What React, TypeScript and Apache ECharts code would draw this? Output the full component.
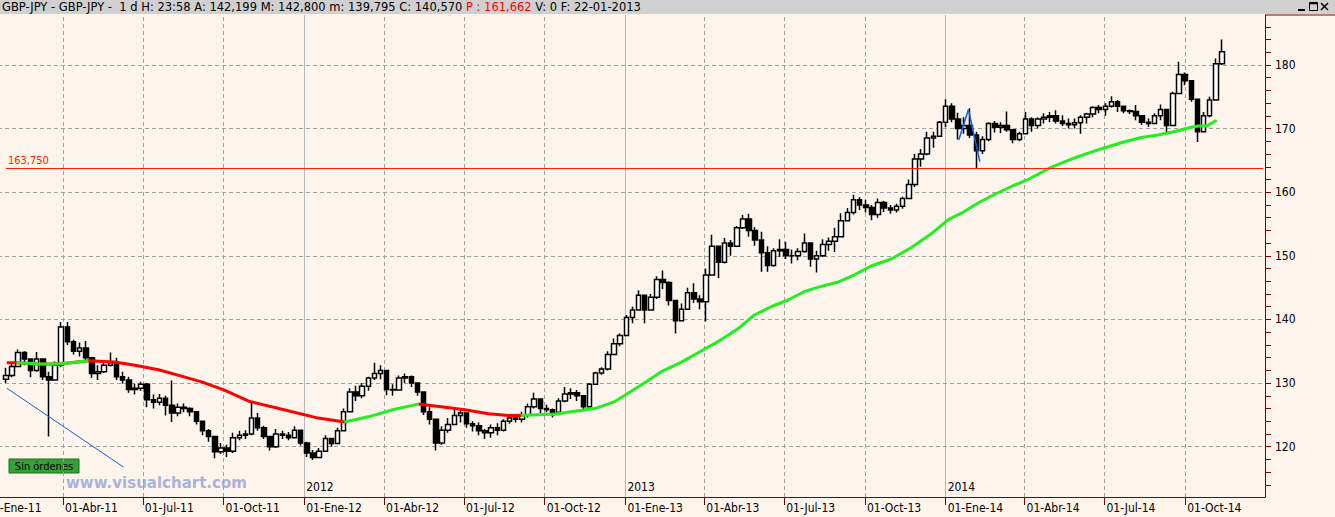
import React, { useEffect, useRef } from "react";
import * as echarts from "echarts";

// ---------- DATA ----------
const firstWeekWednesday = [2011, 0, 26];
const firstOpen = 130.6;
const weeklyClose = [
  131.2, 132.6, 134.8, 133.8, 132.0, 133.8, 131.0, 130.5, 132.8, 138.8,
  136.5, 135.0, 135.5, 134.0, 131.5, 131.8, 132.8, 133.2, 131.0, 130.5,
  129.0, 129.2, 129.8, 127.4, 127.0, 127.6, 126.5, 125.3, 126.2, 126.0,
  125.5, 124.0, 122.5, 121.6, 119.2, 119.8, 119.3, 121.4, 121.8, 122.0,
  124.5, 123.0, 121.6, 120.0, 122.0, 121.8, 121.4, 122.6, 120.6, 119.0,
  118.3, 119.3, 121.3, 120.5, 122.5, 125.5, 128.6, 128.0, 129.5, 130.8,
  131.5, 132.0, 129.0, 128.9, 130.8, 131.0, 130.0, 128.6, 125.5, 124.3,
  120.6, 122.6, 123.5, 124.9, 125.3, 123.6, 123.3, 122.5, 122.2, 123.0,
  122.6, 124.0, 124.5, 124.3, 125.0, 126.3, 127.5, 126.0, 125.8, 125.4,
  127.2, 128.3, 128.5, 128.0, 126.3, 129.8, 131.6, 132.2, 134.5, 136.2,
  137.5, 140.3, 141.5, 143.8, 141.5, 143.5, 146.3, 145.8, 143.0, 139.8,
  141.6, 144.2, 143.2, 142.8, 147.0, 151.5, 149.0, 152.0, 151.5, 154.4,
  155.8, 154.0, 152.5, 150.5, 148.5, 150.8, 151.0, 150.0, 150.0, 150.7,
  152.0, 149.5, 150.0, 151.8, 152.3, 153.0, 155.5, 156.8, 158.8, 158.0,
  157.6, 156.5, 158.4, 157.5, 157.2, 157.8, 159.0, 161.2, 165.2, 166.0,
  168.5, 168.8, 171.0, 173.5, 171.5, 170.0, 170.5, 169.0, 166.5, 168.3,
  170.8, 170.2, 170.5, 169.8, 168.3, 169.2, 171.5, 170.5, 171.5, 171.8,
  172.0, 171.2, 170.8, 170.6, 170.9, 171.8, 172.3, 173.3, 173.0, 173.5,
  174.2, 173.5, 172.8, 172.7, 172.0, 171.0, 170.8, 172.0, 173.0, 170.5,
  175.5, 178.5, 177.5, 174.6, 169.5, 172.0, 174.5, 180.2, 182.06,
];
const weeklyHigh = [
  132.4, 133.2, 135.3, 135.0, 133.8, 134.9, 133.8, 131.8, 133.4, 139.6,
  139.6, 136.8, 136.4, 136.6, 133.8, 132.8, 133.4, 134.8, 134.0, 131.8,
  131.0, 129.9, 130.2, 130.0, 128.2, 128.3, 128.0, 130.4, 126.8, 126.8,
  126.2, 125.3, 124.0, 122.8, 121.2, 120.6, 120.3, 122.2, 122.5, 122.6,
  127.1, 125.3, 123.3, 121.5, 122.8, 122.5, 122.3, 123.2, 122.6, 120.8,
  119.5, 119.8, 121.8, 121.4, 123.0, 126.0, 129.2, 129.6, 130.0, 131.0,
  133.2, 132.8, 132.0, 129.8, 131.2, 131.5, 131.2, 130.0, 128.6, 126.2,
  124.3, 123.2, 124.5, 125.8, 125.7, 125.3, 124.0, 123.8, 122.8, 123.5,
  123.7, 124.3, 125.0, 124.8, 125.5, 126.8, 128.5, 127.4, 126.6, 126.0,
  127.6, 129.4, 129.2, 128.9, 128.0, 130.0, 131.8, 132.5, 135.0, 137.0,
  137.8, 140.7, 142.0, 144.6, 143.8, 144.0, 146.8, 147.7, 146.0, 143.0,
  142.5, 145.0, 145.7, 143.8, 148.0, 153.3, 151.5, 152.8, 152.5, 154.7,
  156.4, 156.6, 154.5, 153.8, 151.5, 151.2, 152.6, 152.2, 151.0, 151.2,
  153.5, 152.0, 150.8, 152.6, 152.9, 154.4, 156.7, 157.5, 159.6, 159.2,
  158.8, 158.0, 159.0, 158.6, 158.0, 158.2, 159.3, 162.0, 166.0, 166.8,
  169.5, 169.5, 171.2, 174.6, 174.0, 172.5, 171.8, 173.2, 169.5, 168.8,
  171.0, 171.2, 171.0, 172.7, 169.8, 169.5, 172.6, 171.8, 171.8, 172.4,
  172.6, 172.9, 172.1, 171.6, 171.6, 172.1, 172.5, 173.5, 173.7, 174.0,
  175.1, 174.5, 173.3, 173.0, 173.7, 172.1, 171.6, 172.4, 173.8, 172.6,
  175.8, 180.5, 178.8, 177.0, 174.5, 172.6, 175.0, 181.0, 184.0,
];
const weeklyLow = [
  130.0, 130.9, 132.6, 132.8, 130.9, 131.8, 130.5, 121.6, 130.4, 132.5,
  136.0, 134.5, 134.2, 133.3, 130.8, 130.5, 131.6, 132.6, 130.5, 129.9,
  128.5, 128.2, 128.8, 126.2, 126.0, 126.5, 124.9, 123.9, 124.8, 125.4,
  124.8, 123.5, 121.8, 120.8, 118.2, 118.9, 118.4, 119.0, 121.0, 121.2,
  121.8, 122.5, 121.2, 119.4, 119.8, 121.2, 121.0, 121.3, 120.2, 118.4,
  117.9, 118.2, 119.2, 120.0, 120.4, 122.4, 125.4, 127.2, 127.6, 128.8,
  130.5, 130.6, 128.1, 128.0, 128.8, 130.0, 129.4, 128.0, 125.0, 123.5,
  119.4, 120.3, 122.2, 123.4, 123.8, 123.0, 122.4, 121.8, 121.2, 121.4,
  121.8, 122.4, 123.6, 123.8, 123.8, 124.6, 126.0, 125.3, 125.4, 124.6,
  125.0, 127.0, 127.5, 127.2, 125.8, 126.3, 129.8, 131.3, 132.0, 134.5,
  135.8, 137.4, 139.4, 141.5, 139.4, 141.5, 143.2, 144.8, 142.2, 137.8,
  139.8, 141.6, 142.6, 141.6, 139.7, 147.0, 146.5, 148.8, 150.0, 151.5,
  154.2, 153.0, 151.6, 147.5, 147.5, 148.3, 149.8, 149.5, 148.8, 149.3,
  150.5, 148.3, 147.4, 149.8, 150.8, 150.6, 153.0, 155.5, 156.5, 157.2,
  156.8, 155.6, 156.0, 156.9, 156.6, 156.8, 157.4, 159.0, 160.8, 164.0,
  165.8, 167.0, 168.8, 170.2, 171.0, 168.3, 169.2, 168.5, 163.8, 166.0,
  168.0, 169.4, 169.3, 169.5, 167.7, 168.0, 169.2, 169.5, 170.0, 170.8,
  171.0, 170.8, 170.4, 170.0, 170.0, 169.2, 170.8, 171.8, 172.4, 172.0,
  173.3, 172.6, 172.4, 172.3, 171.3, 170.6, 170.3, 170.8, 171.3, 169.3,
  170.5, 175.5, 176.8, 174.2, 167.9, 169.5, 171.8, 174.4, 180.0,
];

// moving average, read at points; state: r = red (above price), g = green
const maDates = [
  "2011-01-27", "2011-02-07", "2011-02-22", "2011-02-26", "2011-03-04", "2011-03-28", "2011-04-30",
  "2011-05-30", "2011-06-22", "2011-07-19", "2011-08-14", "2011-09-06", "2011-10-02", "2011-10-31",
  "2011-12-09", "2012-01-17", "2012-02-16", "2012-03-14", "2012-04-13", "2012-05-10", "2012-06-05",
  "2012-07-02", "2012-07-29", "2012-08-21", "2012-09-04", "2012-10-06", "2012-10-09", "2012-10-12",
  "2012-10-31", "2012-11-27", "2012-12-20", "2013-01-04", "2013-01-19", "2013-02-11", "2013-03-06",
  "2013-03-28", "2013-04-20", "2013-05-10", "2013-05-28", "2013-06-16", "2013-07-06", "2013-07-24",
  "2013-08-12", "2013-09-01", "2013-09-19", "2013-10-08", "2013-10-31", "2013-11-23", "2013-12-16",
  "2014-01-04", "2014-01-19", "2014-02-07", "2014-02-25", "2014-03-17", "2014-04-05", "2014-05-01",
  "2014-05-30", "2014-06-27", "2014-07-23", "2014-08-12", "2014-08-31", "2014-09-18", "2014-10-08",
  "2014-10-16", "2014-10-18", "2014-10-27", "2014-11-06",
];
const maValues = [
  133.2, 133.2, 133.1, 133.1, 133.0, 133.0, 133.5,
  133.3, 132.8, 132.1, 131.1, 130.2, 128.9, 127.1,
  125.8, 124.5, 123.9, 124.7, 125.9, 126.7, 126.3,
  125.8, 125.2, 124.9, 124.9, 125.1, 125.1, 125.1,
  125.5, 126.0, 127.1, 128.4, 129.7, 131.8, 133.3,
  135.0, 136.8, 138.6, 140.7, 142.0, 143.1, 144.4,
  145.2, 145.9, 147.0, 148.4, 149.5, 151.3, 153.5,
  155.7, 156.7, 158.3, 159.6, 160.9, 162.0, 163.9,
  165.5, 166.8, 167.9, 168.6, 169.0, 169.5, 170.2,
  170.4, 170.4, 170.5, 171.306,
];
const maState = "rgrgrgr" + "rrrrrrrrr" + "ggg" + "rrrrr" + "gg" + "r" + "g".repeat(36) + "r" + "ggg";

const lastClose = 182.06;
const lastMA = 171.306;
const levelLine = 163.75;
const levelFrom = "2011-01-26";
const levelTo = "2014-12-29";
const trendLine: [string, number][] = [["2011-01-27", 129.2], ["2011-06-09", 116.8]];
const swingLine: [string, number][] = [["2014-01-16", 168.2], ["2014-01-27", 173.0], ["2014-02-09", 164.8]];

const yLabels = [120, 130, 140, 150, 160, 170, 180];
const yMinorTicks = [114, 116, 118, 120, 122, 124, 126, 128, 130, 132, 134, 136, 138, 140, 142, 144, 146, 148, 150, 152, 154, 156, 158, 160, 162, 164, 166, 168, 170, 172, 174, 176, 178, 180, 182, 184, 186];
const quarterStarts = [
  "2011-01-01", "2011-04-01", "2011-07-01", "2011-10-01",
  "2012-01-01", "2012-04-01", "2012-07-01", "2012-10-01",
  "2013-01-01", "2013-04-01", "2013-07-01", "2013-10-01",
  "2014-01-01", "2014-04-01", "2014-07-01", "2014-10-01",
];
const yearStarts = ["2012-01-01", "2013-01-01", "2014-01-01"];
const monthNames = ["Ene", "Feb", "Mar", "Abr", "May", "Jun", "Jul", "Ago", "Sep", "Oct", "Nov", "Dic"];

const titleLeft = "GBP-JPY - GBP-JPY -  1 d H: 23:58 A: 142,199 M: 142,800 m: 139,795 C: 140,570 ";
const titleRed = "P : 161,662 ";
const titleRight = "V: 0 F: 22-01-2013";

// ---------- helpers ----------
const ts = (s: string) => {
  const [y, m, d] = s.split("-").map(Number);
  return new Date(y, m - 1, d).getTime();
};
const weekTs = (i: number) =>
  new Date(firstWeekWednesday[0], firstWeekWednesday[1], firstWeekWednesday[2] + 7 * i).getTime();

const FONT = "'DejaVu Sans Condensed', 'DejaVu Sans', sans-serif";
const TITLE_FONT = "'DejaVu Sans', sans-serif";
const AXIS_RED = "#800000";
const OFF = 17; // the chart div starts 17px left of the page so the first quarter tick sits off-screen

export default function App() {
  const ref = useRef<HTMLDivElement>(null);

  useEffect(() => {
    if (!ref.current) return;
    const chart = echarts.init(ref.current, null, { renderer: "svg" });

    const candles = weeklyClose.map((c, i) => {
      const o = i === 0 ? firstOpen : weeklyClose[i - 1];
      const h = Math.max(weeklyHigh[i], o, c);
      const l = Math.min(weeklyLow[i], o, c);
      return [weekTs(i), o, c, l, h];
    });

    const maRed = maDates.map((d, k) =>
      maState[k] === "r" || (k > 0 && maState[k - 1] === "r") ? [ts(d), maValues[k]] : [ts(d), "-"]
    );
    const maGreen = maDates.map((d, k) =>
      maState[k] === "g" || (k > 0 && maState[k - 1] === "g") ? [ts(d), maValues[k]] : [ts(d), "-"]
    );

    const xMin = ts("2011-01-01");
    const xMax = ts("2014-12-31");
    const qTs = quarterStarts.map(ts);
    const yTs = yearStarts.map(ts);

    const gridLines: any[] = [
      ...quarterStarts.filter((q) => !yearStarts.includes(q)).map((q) => ({ xAxis: ts(q) })),
      ...yTs.map((t) => ({ xAxis: t, lineStyle: { type: "solid", color: "#b8b8b8" } })),
      ...yLabels.map((v) => ({ yAxis: v })),
    ];

    const priceTag = (value: number, text: string) => ({
      yAxis: value,
      lineStyle: { opacity: 0, width: 0 },
      label: {
        show: true,
        position: "end",
        distance: 1,
        formatter: `{a|←}{b|${text}}`,
        rich: {
          a: { color: AXIS_RED, fontSize: 11, fontFamily: FONT, padding: [0, 1, 0, 0] },
          b: {
            color: "#ffffff",
            backgroundColor: "#3399ff",
            borderColor: AXIS_RED,
            borderWidth: 1,
            padding: [2, 3, 1, 3],
            fontSize: 12,
            fontFamily: FONT,
          },
        },
      },
    });

    const seg = (a: [string, number], b: [string, number], color: string, width: number) => [
      { coord: [ts(a[0]), a[1]], lineStyle: { color, width, type: "solid" } },
      { coord: [ts(b[0]), b[1]] },
    ];

    const overlayLines: any[] = [
      [
        {
          coord: [ts(levelFrom), levelLine],
          label: {
            show: true,
            position: "insideStartTop",
            formatter: "163,750",
            color: "#ff2000",
            fontSize: 11,
            fontFamily: FONT,
            distance: 2,
          },
          lineStyle: { color: "#ff2000", width: 1, type: "solid" },
        },
        { coord: [ts(levelTo), levelLine] },
      ],
      seg(trendLine[0], trendLine[1], "#1060e0", 1),
      seg(swingLine[0], swingLine[1], "#1060e0", 1.5),
      seg(swingLine[1], swingLine[2], "#1060e0", 1.5),
      priceTag(lastClose, "182,06"),
      priceTag(lastMA, "171,306"),
    ];

    const option: any = {
      animation: false,
      backgroundColor: "#fdf4ec",
      textStyle: { fontFamily: FONT },
      grid: { left: 0, right: 70, top: 15, bottom: 20, containLabel: false },
      xAxis: [
        {
          type: "value",
          min: xMin,
          max: xMax,
          position: "bottom",
          axisLine: { show: true, lineStyle: { color: AXIS_RED, width: 1 } },
          axisTick: { show: true, length: 8, lineStyle: { color: AXIS_RED }, customValues: qTs },
          axisLabel: {
            show: true,
            customValues: qTs,
            formatter: (v: number) => {
              const d = new Date(v);
              return "01-" + monthNames[d.getMonth()] + "-" + String(d.getFullYear()).slice(2);
            },
            align: "left",
            padding: [0, 0, 0, 2],
            margin: 5,
            color: "#000",
            fontSize: 12,
            fontFamily: FONT,
            hideOverlap: false,
          },
          splitLine: { show: false },
        },
        {
          type: "value",
          min: xMin,
          max: xMax,
          position: "bottom",
          axisLine: { show: false },
          axisTick: { show: true, inside: true, length: 10, lineStyle: { color: AXIS_RED }, customValues: yTs },
          axisLabel: {
            show: true,
            inside: true,
            customValues: yTs,
            formatter: (v: number) => String(new Date(v).getFullYear()),
            align: "left",
            padding: [0, 0, 0, 2],
            margin: 4,
            color: "#000",
            fontSize: 12,
            fontFamily: FONT,
          },
          splitLine: { show: false },
        },
      ],
      yAxis: {
        type: "value",
        position: "right",
        min: 112.1,
        max: 187.85,
        axisLine: { show: true, lineStyle: { color: AXIS_RED, width: 1 } },
        axisTick: { show: true, length: 6, lineStyle: { color: AXIS_RED }, customValues: yMinorTicks },
        axisLabel: { customValues: yLabels, color: "#000", fontSize: 12, margin: 10, fontFamily: FONT },
        splitLine: { show: false },
      },
      series: [
        {
          type: "candlestick",
          name: "GBP-JPY",
          xAxisIndex: 0,
          encode: { x: 0, y: [1, 2, 3, 4] },
          data: candles,
          barWidth: 5,
          z: 2,
          itemStyle: {
            color: "#ffffff",
            color0: "#000000",
            borderColor: "#000000",
            borderColor0: "#000000",
            borderWidth: 1.5,
          },
          markLine: {
            z: 1,
            silent: true,
            symbol: ["none", "none"],
            label: { show: false },
            lineStyle: { color: "#a0a0a0", type: [4, 3], width: 1 },
            data: gridLines,
          },
        },
        {
          type: "line",
          name: "MA red",
          data: maRed,
          showSymbol: false,
          symbol: "none",
          connectNulls: false,
          z: 3,
          lineStyle: { color: "#ff0000", width: 3 },
        },
        {
          type: "line",
          name: "MA green",
          data: maGreen,
          showSymbol: false,
          symbol: "none",
          connectNulls: false,
          z: 3,
          lineStyle: { color: "#22ee22", width: 3 },
          markLine: {
            z: 6,
            silent: true,
            symbol: ["none", "none"],
            label: { show: false },
            data: overlayLines,
          },
        },
      ],
      graphic: [
        { type: "rect", z: 100, shape: { x: 0, y: 0, width: 1335 + OFF, height: 14 }, style: { fill: "#d0d0d0" } },
        {
          type: "text",
          z: 101,
          x: 2 + OFF,
          y: 1,
          style: {
            text: `{k|${titleLeft}}{r|${titleRed}}{k|${titleRight}}`,
            rich: {
              k: { fill: "#000", fontSize: 11.5, fontFamily: TITLE_FONT },
              r: { fill: "#ff0000", fontSize: 11.5, fontFamily: TITLE_FONT },
            },
          },
        },
        { type: "line", z: 101, shape: { x1: 1298 + OFF, y1: 10, x2: 1305 + OFF, y2: 10 }, style: { stroke: "#000", lineWidth: 2 } },
        { type: "rect", z: 101, shape: { x: 1309.5 + OFF, y: 2.5, width: 8, height: 8 }, style: { fill: "none", stroke: "#000", lineWidth: 1 } },
        { type: "line", z: 101, shape: { x1: 1309.5 + OFF, y1: 3.5, x2: 1317.5 + OFF, y2: 3.5 }, style: { stroke: "#000", lineWidth: 1.5 } },
        { type: "line", z: 101, shape: { x1: 1321 + OFF, y1: 3, x2: 1328 + OFF, y2: 10 }, style: { stroke: "#000", lineWidth: 1.5 } },
        { type: "line", z: 101, shape: { x1: 1328 + OFF, y1: 3, x2: 1321 + OFF, y2: 10 }, style: { stroke: "#000", lineWidth: 1.5 } },
        { type: "line", z: 101, shape: { x1: 1265 + OFF, y1: 15, x2: 1335 + OFF, y2: 15 }, style: { stroke: AXIS_RED, lineWidth: 1 } },
        {
          type: "text",
          z: 0,
          x: 66 + OFF,
          y: 475,
          style: {
            text: "www.visualchart.com",
            fill: "#aab2da",
            font: "bold 15px 'DejaVu Sans', sans-serif",
          },
        },
        {
          type: "group",
          z: 50,
          x: 9 + OFF,
          y: 459,
          children: [
            { type: "rect", shape: { x: 0, y: 0, width: 70, height: 14 }, style: { fill: "#35a035", stroke: "#1d6e1d", lineWidth: 1 } },
            {
              type: "text",
              x: 35,
              y: 7,
              style: { text: "Sin órdenes", fill: "#000", fontSize: 11, fontFamily: FONT, align: "center", verticalAlign: "middle" },
            },
          ],
        },
      ],
    };

    chart.setOption(option);
    return () => chart.dispose();
  }, []);

  return (
    <div
      ref={ref}
      style={{ position: "absolute", left: -OFF, top: 0, width: 1335 + OFF, height: 517 }}
    />
  );
}
